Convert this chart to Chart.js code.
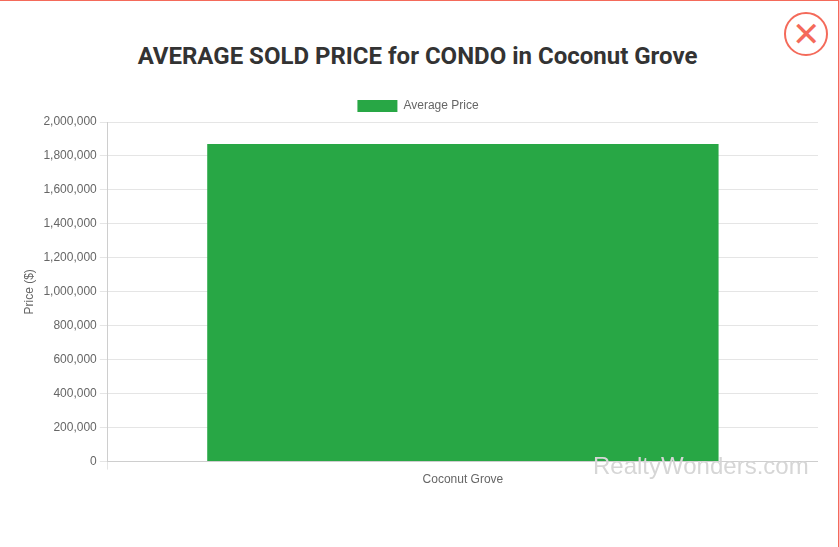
<!DOCTYPE html>
<html>
<head>
<meta charset="utf-8">
<script src="https://cdn.jsdelivr.net/npm/chart.js@4"></script>
<style>
  html, body { margin: 0; padding: 0; background: #fff; }
  body { width: 839px; height: 547px; position: relative; overflow: hidden; box-sizing: border-box;
         border-top: 1px solid #f46a5a; border-right: 1px solid #f46a5a; font-family: Roboto, sans-serif; }
  h2 { position: absolute; top: 41px; left: 0; width: 835px; margin: 0; text-align: center;
       font-size: 24px; font-weight: bold; color: #333; }
  .close { position: absolute; left: 784px; top: 11px; width: 40px; height: 40px; border: 2px solid #f46a5a;
           border-radius: 50%; color: #f46a5a; font-size: 34px; line-height: 40px; text-align: center; font-weight: 300; }
  .wm { position: absolute; left: 593px; top: 451px; font-size: 24px; color: #d6d6d6; font-family: Arial, sans-serif; }
  #wrap { position: absolute; left: 18px; top: 89px; width: 800px; height: 400px; }
</style>
</head>
<body>
<h2>AVERAGE SOLD PRICE for CONDO in Coconut Grove</h2>
<div class="close">&#x2715;</div>
<div id="wrap"><canvas id="chart"></canvas></div>
<div class="wm">RealtyWonders.com</div>
<script>
const categories = ['Coconut Grove'];
const avgPrice = [1870000];

new Chart(document.getElementById('chart'), {
  type: 'bar',
  data: {
    labels: categories,
    datasets: [{ label: 'Average Price', data: avgPrice, backgroundColor: '#28a745', barPercentage: 0.9, categoryPercentage: 0.8 }]
  },
  options: {
    responsive: true, maintainAspectRatio: false, animation: false,
    plugins: { legend: { labels: { color: '#666', font: { size: 12 }, boxWidth: 40, boxHeight: 12 } } },
    scales: {
      x: { ticks: { color: '#666' } },
      y: { min: 0, max: 2000000, ticks: { stepSize: 200000, color: '#666', callback: v => v.toLocaleString('en-US') },
           title: { display: true, text: 'Price ($)', color: '#666' } }
    }
  }
});
</script>
</body>
</html>
